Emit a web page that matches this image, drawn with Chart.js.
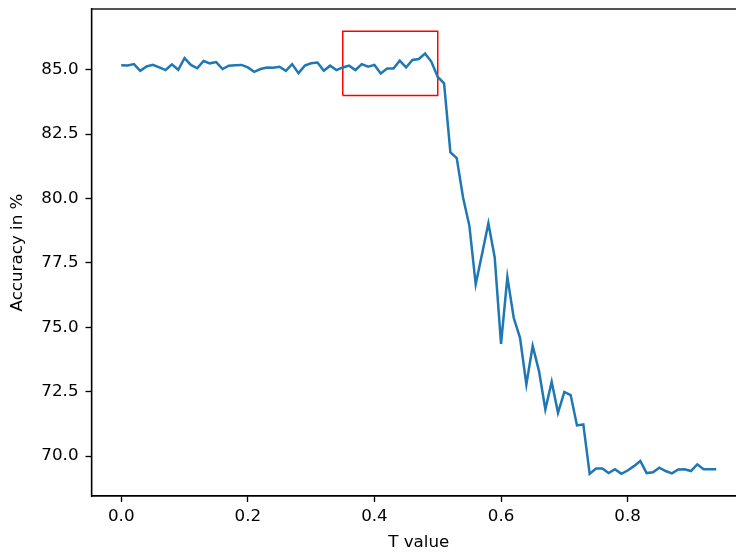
<!DOCTYPE html>
<html><head><meta charset="utf-8">
<script src="https://cdn.jsdelivr.net/npm/chart.js@4"></script>
<style>html,body{margin:0;padding:0;background:#fff;overflow:hidden;}#wrap{width:736px;height:554px;overflow:hidden;position:relative;background:#fff}canvas{position:absolute;left:0;top:0}</style>
</head><body><div id="wrap"><canvas id="c" width="750" height="554"></canvas></div>
<script>
const tValues = [0.00,0.01,0.02,0.03,0.04,0.05,0.06,0.07,0.08,0.09,
  0.10,0.11,0.12,0.13,0.14,0.15,0.16,0.17,0.18,0.19,
  0.20,0.21,0.22,0.23,0.24,0.25,0.26,0.27,0.28,0.29,
  0.30,0.31,0.32,0.33,0.34,0.35,0.36,0.37,0.38,0.39,
  0.40,0.41,0.42,0.43,0.44,0.45,0.46,0.47,0.48,0.49,
  0.50,0.51,0.52,0.53,0.54,0.55,0.56,0.57,0.58,0.59,
  0.60,0.61,0.62,0.63,0.64,0.65,0.66,0.67,0.68,0.69,
  0.70,0.71,0.72,0.73,0.74,0.75,0.76,0.77,0.78,0.79,
  0.80,0.81,0.82,0.83,0.84,0.85,0.86,0.87,0.88,0.89,
  0.90,0.91,0.92,0.93,0.94];
const accuracy = [85.18,85.17,85.22,84.96,85.13,85.19,85.09,84.99,85.21,85.00,
  85.45,85.19,85.06,85.34,85.25,85.30,85.03,85.16,85.18,85.19,
  85.09,84.92,85.03,85.09,85.08,85.12,84.96,85.22,84.87,85.16,
  85.25,85.28,84.96,85.16,84.99,85.09,85.16,84.99,85.22,85.12,
  85.19,84.86,85.05,85.05,85.35,85.09,85.38,85.42,85.63,85.31,
  84.72,84.47,81.79,81.57,80.04,78.94,76.67,77.85,79.04,77.71,
  74.36,76.95,75.37,74.59,72.78,74.28,73.30,71.81,72.89,71.68,
  72.49,72.37,71.19,71.23,69.31,69.52,69.52,69.34,69.49,69.31,
  69.44,69.61,69.81,69.34,69.37,69.55,69.42,69.33,69.48,69.49,
  69.42,69.68,69.49,69.49,69.49];
const xTickValues = [0.0,0.2,0.4,0.6,0.8];
const yTickValues = [70.0,72.5,75.0,77.5,80.0,82.5,85.0];
const boxX = [0.35,0.50,0.50,0.35,0.35];
const boxY = [84.0,84.0,86.5,86.5,84.0];
const xLabel = 'T value';
const yLabel = 'Accuracy in %';

const FONT = {family:'"DejaVu Sans"', size:16.7};
const framePlugin = {
  id:'frame',
  afterDatasetsDraw(chart){
    const a = chart.chartArea, ctx = chart.ctx;
    ctx.save();
    ctx.strokeStyle = '#000';
    ctx.lineWidth = 1.33;
    ctx.strokeRect(a.left, a.top, a.right - a.left, a.bottom - a.top);
    ctx.restore();
  }
};

new Chart(document.getElementById('c'), {
  type:'line',
  data:{
    datasets:[
      {data: tValues.map((t,i)=>({x:t, y:accuracy[i]})), borderColor:'#1f77b4', borderWidth:2.5, pointRadius:0, tension:0, fill:false},
      {data: boxX.map((x,i)=>({x:x, y:boxY[i]})), borderColor:'#ff0000', borderWidth:1.5, pointRadius:0, tension:0, fill:false}
    ]
  },
  options:{
    responsive:false, animation:false, devicePixelRatio:1,
    layout:{padding:{top:9,right:4,bottom:0,left:0}},
    plugins:{legend:{display:false}, tooltip:{enabled:false}},
    scales:{
      x:{type:'linear', min:-0.047, max:0.987,
        afterBuildTicks(s){ s.ticks = xTickValues.map(v=>({value:v})); },
        afterFit(s){ s.height = 58; s.paddingLeft = 0; s.paddingRight = 0; },
        ticks:{color:'#000', font:FONT, padding:5, maxRotation:0, callback:v=>Number(v).toFixed(1)},
        grid:{drawOnChartArea:false, drawTicks:true, tickLength:6, tickWidth:1.33, tickColor:'#000'},
        border:{display:true, color:'#000', width:1.33},
        title:{display:true, text:xLabel, color:'#000', font:FONT, padding:{top:0,bottom:1}}
      },
      y:{type:'linear', min:68.45, max:87.36,
        afterBuildTicks(s){ s.ticks = yTickValues.map(v=>({value:v})); },
        afterFit(s){ s.width = 91.5; s.paddingTop = 0; s.paddingBottom = 0; },
        ticks:{color:'#000', font:FONT, padding:7, callback:v=>Number(v).toFixed(1)},
        grid:{drawOnChartArea:false, drawTicks:true, tickLength:6, tickWidth:1.33, tickColor:'#000'},
        border:{display:true, color:'#000', width:1.33},
        title:{display:true, text:yLabel, color:'#000', font:FONT, padding:{top:8,bottom:0}}
      }
    }
  },
  plugins:[framePlugin]
});
</script></body></html>
